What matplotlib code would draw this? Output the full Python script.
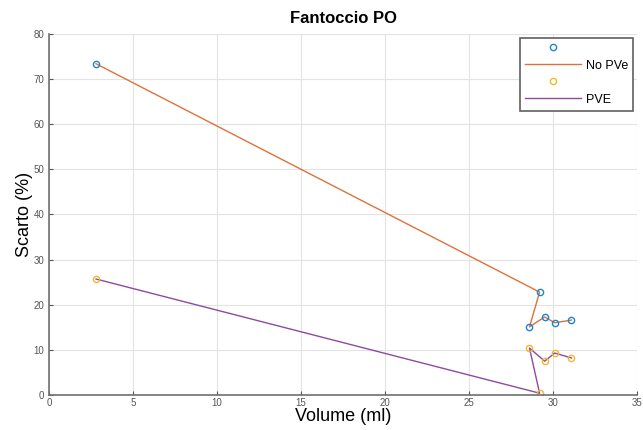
import matplotlib
matplotlib.use('Agg')
import matplotlib.pyplot as plt
from matplotlib.lines import Line2D

plt.rcParams['font.family'] = ['Liberation Sans', 'DejaVu Sans']

# Volumes (ml) in plotting order
volume = [2.8, 29.2, 28.6, 29.5, 30.1, 31.1]
# Scarto (%) without and with partial volume correction
scarto_nopve = [73.4, 22.8, 15.1, 17.3, 16.0, 16.6]
scarto_pve = [25.7, 0.4, 10.4, 7.5, 9.3, 8.2]

blue = '#1a86d0'
orange = '#e0703c'
yellow = '#f0b830'
purple = '#8e4a9e'

fig = plt.figure(figsize=(6.43, 4.30), dpi=100)
ax = fig.add_axes([0.0762, 0.0814, 0.9145, 0.8396])

ax.plot(volume, scarto_nopve, color=orange, linewidth=1)
ax.plot(volume, scarto_nopve, linestyle='none', marker='o', markersize=4.5,
        markerfacecolor='none', markeredgecolor=blue, markeredgewidth=1)
ax.plot(volume, scarto_pve, color=purple, linewidth=1)
ax.plot(volume, scarto_pve, linestyle='none', marker='o', markersize=4.5,
        markerfacecolor='none', markeredgecolor=yellow, markeredgewidth=1)

ax.set_xlim(0, 35)
ax.set_ylim(0, 80)
ax.set_xticks(range(0, 36, 5))
ax.set_yticks(range(0, 81, 10))
ax.grid(True, color='#e3e3e3', linewidth=0.8)
ax.set_axisbelow(True)
for s in ['top', 'right']:
    ax.spines[s].set_visible(False)
for s in ['left', 'bottom']:
    ax.spines[s].set_color('#707070')
    ax.spines[s].set_linewidth(1.2)
ax.tick_params(direction='in', length=3, colors='#555555', labelsize=7, width=0.8)
ax.tick_params(axis='x', pad=2)

ax.set_title('Fantoccio PO', fontsize=12, fontweight='bold', pad=8)
ax.set_xlabel('Volume (ml)', fontsize=13, labelpad=0)
ax.set_ylabel('Scarto (%)', fontsize=13, labelpad=0)

handles = [
    Line2D([], [], linestyle='none', marker='o', markersize=4.5,
           markerfacecolor='none', markeredgecolor=blue),
    Line2D([], [], color=orange, linewidth=1),
    Line2D([], [], linestyle='none', marker='o', markersize=4.5,
           markerfacecolor='none', markeredgecolor=yellow),
    Line2D([], [], color=purple, linewidth=1),
]
leg = ax.legend(handles, ['', 'No PVe', '', 'PVE'], loc='upper right',
                fontsize=9, fancybox=False, framealpha=1, handlelength=4.5,
                labelspacing=0.4, borderaxespad=0.3, handletextpad=0.4)
leg.get_frame().set_edgecolor('#606060')
leg.get_frame().set_linewidth(1.2)

fig.savefig('out.png', dpi=100)
